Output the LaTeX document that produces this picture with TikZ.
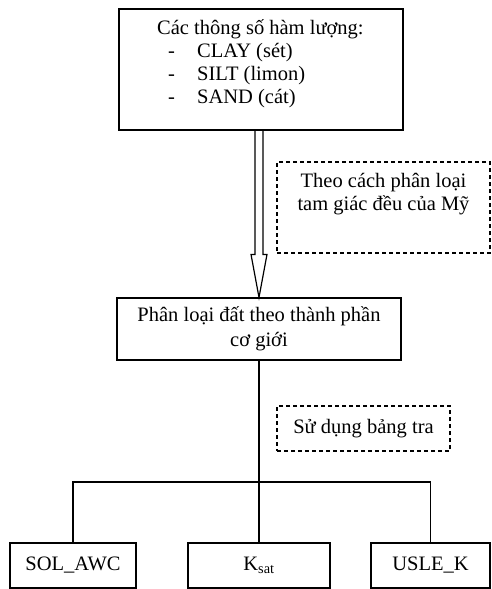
\documentclass[tikz,border=0pt]{standalone}
\usepackage{fontspec}
\setmainfont{Liberation Serif}
\usetikzlibrary{positioning, calc}

\tikzset{
  box/.style={draw, line width=1.2pt, inner sep=0pt},
  dashbox/.style={draw, line width=1.1pt, dash pattern=on 4pt off 3pt, inner sep=0pt},
  txt/.style={font=\fontsize{20.5}{23}\selectfont, align=center, inner sep=0pt},
  link/.style={draw, line width=1.2pt}
}

\begin{document}
\begin{tikzpicture}[x=1pt, y=-1pt]
            \useasboundingbox (0,0) rectangle (492,589);
            % input parameters
            \node[box, minimum width=284, minimum height=121] (params) at (261,69.5) {};
            \node[txt, align=left, anchor=north west] (paramtxt) at (157,19) {Các thông số hàm lượng:\\
                \hspace{11pt}\makebox[29pt][l]{-}CLAY (sét)\\
                \hspace{11pt}\makebox[29pt][l]{-}SILT (limon)\\
                \hspace{11pt}\makebox[29pt][l]{-}SAND (cát)};
            % classification
            \node[box, txt, minimum width=284, minimum height=62] (mid) at (259,329) {Phân loại đất theo thành phần\\[2pt] cơ giới};
            \node[dashbox, minimum width=213, minimum height=91] (usda) at (383.5,207.5) {};
            \node[txt] (usdatxt) at (383.5,194) {Theo cách phân loại\\ tam giác đều của Mỹ};
            \node[dashbox, txt, minimum width=173, minimum height=45] (table) at (363.5,428.5) {Sử dụng bảng tra};
            % outputs
            \node[box, txt, minimum width=126, minimum height=45] (awc) at (73,565.5) {SOL\_AWC};
            \node[box, txt, minimum width=142, minimum height=45] (ksat) at (259,565.5) {K\textsubscript{sat}};
            \node[box, txt, minimum width=119, minimum height=45] (usle) at (430.5,565.5) {USLE\_K};
            \coordinate (bus) at (259,482);
            % hollow arrow
            \draw[link, line join=miter] ($(params.south -| mid.north)+(-4,0)$) -- ($(mid.north)+(-4,-43)$) -- ($(mid.north)+(-8,-43)$)
                -- (mid.north) -- ($(mid.north)+(8,-43)$) -- ($(mid.north)+(4,-43)$) -- ($(params.south -| mid.north)+(4,0)$);
            \draw[link] (mid.south) -- (ksat.north);
            \draw[link] (awc.north) |- (bus) -| (usle.north);
        \end{tikzpicture}
\end{document}
